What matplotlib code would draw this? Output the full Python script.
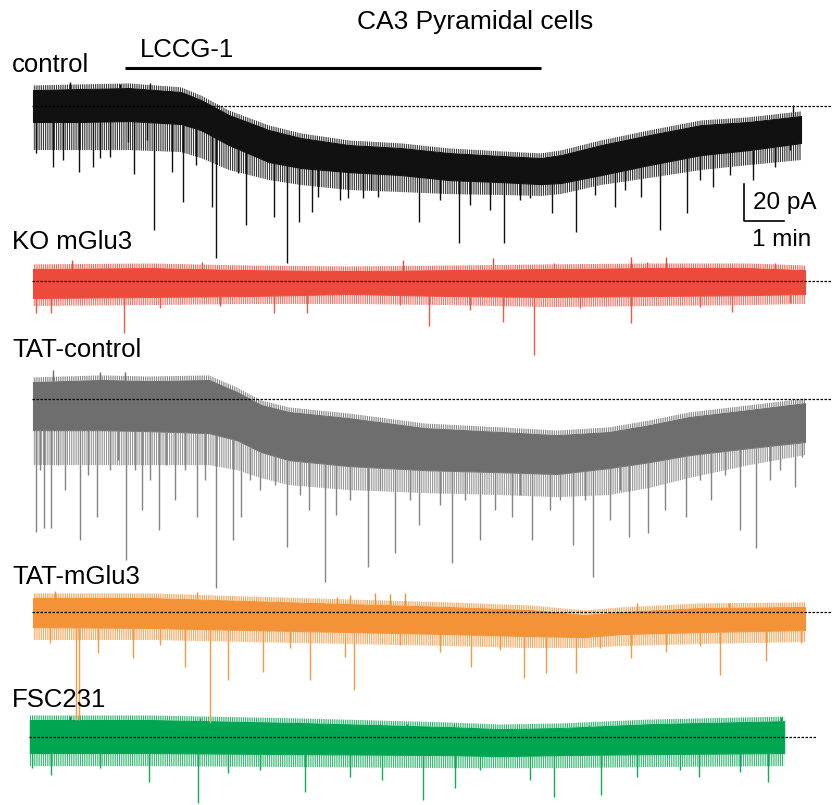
import numpy as np
import matplotlib
matplotlib.use('Agg')
import matplotlib.pyplot as plt

plt.rcParams['font.family'] = ['Liberation Sans', 'DejaVu Sans']
plt.rcParams['hatch.linewidth'] = 0.6

# 轨迹数据：时间(min)，相对于虚线基线的电流(pA)
# hi/lo: 密集噪声带上下沿；fr: 下方“毛刺”区的下沿；ev: 较大的事件
# control
ctl_t = [0, 1.2, 2.4, 3.7, 4.2, 4.9, 5.9, 6.7, 7.9, 9.2, 10.4, 11.7, 12.7, 13.2, 14.2, 15.4, 16.7, 17.9, 19.2]
ctl_hi = [8.6, 9.2, 9.7, 7.6, 3.2, -4.9, -13.0, -17.3, -21.1, -22.7, -25.4, -27.0, -28.1, -26.5, -21.1, -15.7, -10.3, -8.6, -5.4]
ctl_lo = [-8.6, -8.6, -8.1, -9.7, -13.0, -21.1, -30.3, -33.5, -35.7, -37.3, -40.0, -41.1, -42.2, -41.6, -37.3, -31.9, -26.5, -23.8, -20.0]
ctl_fr = [-23.8, -23.8, -23.8, -24.9, -28.1, -34.6, -40.0, -42.7, -45.4, -46.5, -47.6, -48.1, -48.6, -47.6, -42.7, -38.9, -34.6, -31.9, -29.2]
ctl_ev_t = [0.08, 0.5, 0.75, 1.15, 1.5, 1.68, 1.93, 2.38, 2.53, 2.85, 3.03, 3.48, 3.75, 4.08, 4.48, 4.58,
            5.13, 5.33, 6.03, 6.35, 6.65, 6.98, 7.13, 7.68, 7.88, 8.25, 8.45, 8.63, 9.65, 10.18, 10.65,
            10.93, 11.43, 11.78, 12.18, 12.43, 12.98, 13.58, 14.05, 14.55, 14.8, 15.2, 15.68, 16.35,
            16.68, 17.0, 17.43, 18.0, 18.55, 18.93]
ctl_ev_a = [-25.4, -33.0, -29.2, -35.7, -33.0, -28.1, -27.6, -19.5, -36.8, -18.4, -67.0, -35.7, -51.9, -31.9, -54.6, -82.2,
            -36.2, -64.3, -60.0, -84.9, -62.7, -57.3, -49.2, -50.8, -49.7, -49.7, -45.4, -49.2, -62.7, -50.8, -74.1,
            -53.5, -56.2, -74.1, -50.8, -49.7, -57.8, -68.1, -48.1, -54.6, -45.4, -49.2, -67.0, -57.8,
            -40.0, -43.8, -37.3, -40.0, -33.0, -23.8]
ctl_up_t = [0.93, 2.18, 2.93, 19.0]
ctl_up_a = [13.0, 11.9, 12.4, 0.5]

# KO mGlu3
ko_t = [0, 2.9, 5.4, 7.9, 10.4, 12.9, 15.4, 17.9, 19.3]
ko_hi = [6.5, 7.0, 5.9, 5.4, 5.9, 6.5, 7.0, 7.0, 5.9]
ko_lo = [-9.2, -8.6, -8.1, -7.0, -8.1, -8.6, -8.1, -7.6, -7.0]
ko_fr = [-13.5, -13.0, -12.4, -12.4, -13.0, -14.1, -13.5, -13.0, -12.4]
ko_ev_t = [0.08, 0.45, 2.28, 3.18, 4.68, 6.03, 6.85, 9.18, 9.9, 10.93, 11.75, 12.53, 13.68, 14.95, 16.68, 17.48, 18.93]
ko_ev_a = [-17.3, -17.3, -28.1, -14.6, -13.5, -17.3, -17.3, -13.0, -24.3, -15.7, -22.2, -40.0, -14.6, -22.7, -14.1, -16.8, -11.9]
ko_up_t = [0.98, 4.23, 9.25, 11.5, 13.03, 14.95, 15.35, 15.83, 18.55]
ko_up_a = [11.4, 10.3, 11.4, 12.4, 9.7, 13.0, 10.3, 13.0, 9.7]

# TAT-control
tc_t = [0, 1.7, 2.9, 4.4, 5.1, 5.7, 6.4, 7.9, 9.8, 11.7, 13.1, 14.4, 15.4, 16.4, 17.9, 19.3]
tc_hi = [9.2, 10.3, 9.7, 10.3, 3.8, -3.2, -7.0, -10.3, -15.7, -17.8, -19.5, -17.8, -14.1, -9.7, -5.9, -2.2]
tc_lo = [-16.8, -16.8, -17.3, -18.4, -22.2, -28.6, -33.0, -36.2, -38.4, -39.5, -40.5, -37.3, -34.1, -30.3, -26.5, -23.2]
tc_fr = [-35.7, -35.7, -35.7, -35.7, -38.4, -42.7, -46.5, -49.2, -50.8, -51.9, -53.0, -51.9, -48.1, -42.7, -35.7, -30.3]
tc_ev_t = [0.08, 0.18, 0.28, 0.45, 0.63, 0.8, 1.18, 1.38, 1.6, 1.93, 2.13, 2.33, 2.55, 2.73, 2.93, 3.15, 3.33,
           3.55, 3.8, 4.1, 4.3, 4.58, 5.0, 5.2, 5.43, 5.68, 6.05, 6.35, 6.68, 6.9, 7.3, 7.58, 7.93, 8.38,
           8.68, 9.05, 9.43, 9.65, 10.18, 10.48, 10.8, 11.18, 11.55, 11.98, 12.18, 12.48, 12.93, 13.18,
           13.5, 13.8, 14.0, 14.43, 14.68, 14.9, 15.38, 15.8, 16.33, 16.68, 16.95, 17.3, 17.68, 18.08,
           18.43, 18.68, 19.05, 19.23]
tc_ev_a = [-71.9, -38.4, -69.7, -69.7, -35.7, -49.2, -76.2, -41.1, -63.8, -38.4, -33.0, -87.0, -38.4, -60.0, -43.8, -70.8, -35.7,
           -54.6, -38.4, -63.8, -43.8, -102.2, -76.2, -63.8, -43.8, -49.2, -46.5, -80.0, -51.9, -60.0, -98.9, -62.7, -54.6, -90.8,
           -49.2, -83.2, -54.6, -68.1, -57.3, -88.6, -54.6, -76.2, -60.0, -63.8, -51.9, -76.2, -60.0, -54.6,
           -78.9, -54.6, -96.2, -65.4, -49.2, -74.6, -72.4, -60.0, -63.8, -43.8, -54.6, -41.1, -70.8, -80.5,
           -43.8, -38.4, -47.6, -31.4]
tc_up_t = [0.5, 1.68, 2.3]
tc_up_a = [15.7, 14.6, 14.6]

# TAT-mGlu3
tm_t = [0, 2.9, 5.4, 7.9, 10.4, 12.4, 13.8, 14.7, 16.7, 19.3]
tm_hi = [7.6, 7.6, 5.9, 4.3, 2.7, 1.1, -1.6, 0.0, 2.2, 2.7]
tm_lo = [-8.1, -8.6, -9.7, -10.8, -11.9, -13.0, -13.5, -11.9, -10.8, -9.7]
tm_fr = [-15.1, -15.1, -16.2, -17.3, -18.4, -19.5, -19.5, -18.4, -17.3, -16.2]
tm_ev_t = [0.43, 1.08, 1.15, 1.63, 2.5, 3.18, 3.8, 4.43, 4.88, 5.75, 6.43, 6.93, 7.8, 8.03, 9.18, 10.18,
           10.95, 11.68, 12.28, 12.83, 13.58, 14.18, 14.95, 15.83, 16.68, 17.18, 18.33, 19.2]
tm_ev_a = [-16.8, -58.4, -58.4, -22.2, -24.9, -17.8, -29.7, -60.0, -36.8, -32.4, -19.5, -36.8, -24.3, -42.2, -17.8, -21.6,
           -29.7, -20.5, -35.7, -33.0, -33.0, -19.5, -24.9, -21.6, -18.4, -34.1, -26.5, -16.8]
tm_up_t = [0.55, 4.1, 7.6, 7.93, 8.55, 8.93, 9.3, 15.1, 17.4]
tm_up_a = [11.4, 10.8, 8.1, 9.2, 10.3, 9.7, 10.3, 4.9, 4.9]

# FSC231
fs_t = [-0.08, 2.93, 6.68, 10.43, 11.68, 13.18, 15.43, 18.78]
fs_hi = [9.2, 9.2, 7.6, 5.4, 4.3, 4.9, 7.0, 8.6]
fs_lo = [-8.6, -8.6, -9.2, -9.7, -10.3, -9.7, -9.2, -8.6]
fs_fr = [-15.7, -15.7, -16.2, -16.8, -16.8, -16.8, -16.2, -15.7]
fs_ev_t = [-0.03, 0.45, 1.68, 2.9, 4.13, 4.88, 5.68, 6.8, 7.93, 8.73, 9.75, 10.55, 11.18, 12.43, 13.03,
           14.2, 15.1, 16.18, 16.65, 17.68, 18.38]
fs_ev_a = [-16.8, -20.5, -16.8, -24.3, -35.7, -19.5, -17.8, -29.7, -21.6, -23.2, -34.1, -27.6, -17.8, -23.2, -32.4,
           -31.4, -21.6, -17.8, -21.6, -18.9, -24.3]
fs_up_t = [0.93, 4.18, 9.35, 10.53, 13.9, 18.7]
fs_up_a = [11.4, 10.3, 7.0, 7.0, 6.5, 10.8]

labels = ['control', 'KO mGlu3', 'TAT-control', 'TAT-mGlu3', 'FSC231']
offsets = [-57.3, -151.9, -215.7, -330.8, -398.4]   # 各轨迹基线在图中的位置(pA)
dash_end = [19.98, 19.98, 19.98, 19.98, 19.58]
colors = ['#111111', '#ec4a3b', '#6e6e6e', '#f39236', '#00a551']
spike_colors = ['#111111', '#ee5a4c', '#858585', '#f59a45', '#13aa5a']

drug_on, drug_off = 2.3, 12.7


def draw_trace(ax, off, t, hi, lo, fr, ev_t, ev_a, up_t, up_a, c, sc):
    t = np.array(t)
    hi = np.array(hi)
    lo = np.array(lo)
    ax.fill_between(t, off + hi, off + lo, color=c, lw=0.8, ec=c)
    # 毛刺区用竖线填充
    ax.fill_between(t, off + lo, off + np.array(fr), facecolor='none', edgecolor=sc,
                    hatch='|||||||||', lw=0)
    ax.fill_between(t, off + hi, off + hi + 2.5, facecolor='none', edgecolor=c,
                    hatch='|||||||||', lw=0)
    # 事件：从噪声带边缘画到峰值
    lo_at = np.interp(ev_t, t, lo)
    ax.vlines(ev_t, off + lo_at, off + np.array(ev_a), color=sc, lw=1.0)
    hi_at = np.interp(up_t, t, hi)
    ax.vlines(up_t, off + hi_at, off + np.array(up_a), color=c, lw=1.0)


fig = plt.figure(figsize=(8.32, 8.05), dpi=100)
ax = fig.add_axes([0, 0, 1, 1])
ax.set_xlim(-0.825, 19.975)
ax.set_ylim(-435.1, 0)
ax.axis('off')

traces = [
    (ctl_t, ctl_hi, ctl_lo, ctl_fr, ctl_ev_t, ctl_ev_a, ctl_up_t, ctl_up_a),
    (ko_t, ko_hi, ko_lo, ko_fr, ko_ev_t, ko_ev_a, ko_up_t, ko_up_a),
    (tc_t, tc_hi, tc_lo, tc_fr, tc_ev_t, tc_ev_a, tc_up_t, tc_up_a),
    (tm_t, tm_hi, tm_lo, tm_fr, tm_ev_t, tm_ev_a, tm_up_t, tm_up_a),
    (fs_t, fs_hi, fs_lo, fs_fr, fs_ev_t, fs_ev_a, fs_up_t, fs_up_a),
]
for i, tr in enumerate(traces):
    draw_trace(ax, offsets[i], *tr, colors[i], spike_colors[i])

for i, tr in enumerate(traces):
    ax.plot([tr[0][0] - 0.03, dash_end[i]], [offsets[i], offsets[i]], color='black',
            lw=0.9, ls=(0, (2.0, 1.2)), zorder=5)

# LCCG-1 给药时间条
ax.plot([drug_on, drug_off], [-36.8, -36.8], color='black', lw=2.2, solid_capstyle='butt')

# 比例尺 20 pA / 1 min
ax.plot([17.78, 17.78, 18.78], [-99.5, -119.5, -119.5], color='black', lw=1.2)

fs = 18.5
fig.text(475 / 832, 1 - 22 / 805, 'CA3 Pyramidal cells', ha='center', va='center', fontsize=19)
fig.text(140 / 832, 1 - 50 / 805, 'LCCG-1', ha='left', va='center', fontsize=fs)
label_y = [65, 242, 350, 577, 700]
for lab, y in zip(labels, label_y):
    fig.text(12 / 832, 1 - y / 805, lab, ha='left', va='center', fontsize=fs)
fig.text(753 / 832, 1 - 203 / 805, '20 pA', ha='left', va='center', fontsize=17.5)
fig.text(752 / 832, 1 - 240 / 805, '1 min', ha='left', va='center', fontsize=17.5)

fig.savefig('out.png', dpi=100)
